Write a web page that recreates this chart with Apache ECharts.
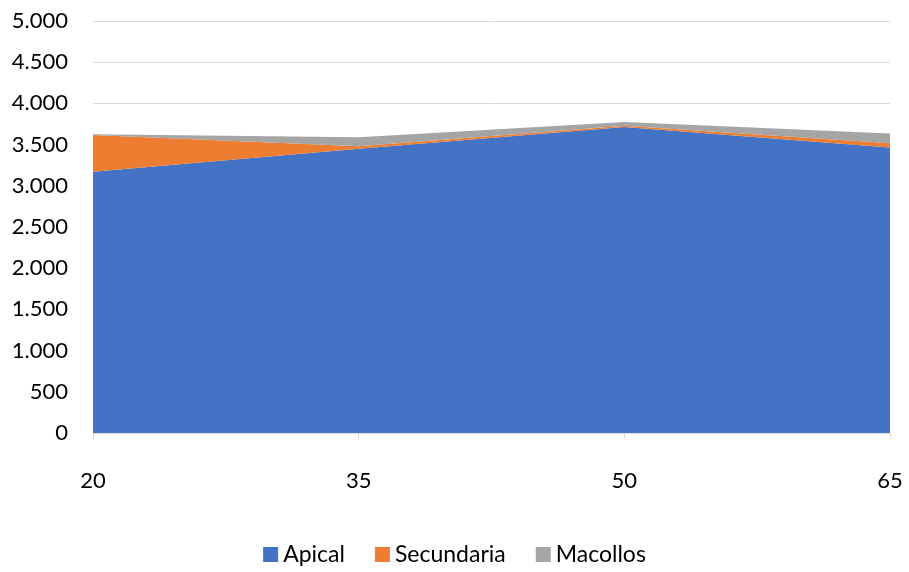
<!DOCTYPE html>
<html>
<head>
<meta charset="utf-8">
<script src="https://cdn.jsdelivr.net/npm/echarts@6/dist/echarts.min.js"></script>
<style>html,body{margin:0;padding:0;background:#fff;}#c{width:909px;height:572px;}</style>
</head>
<body>
<div id="c"></div>
<script>
const categories = ['20', '35', '50', '65'];
const apical = [3170, 3450, 3715, 3465];
const secundaria = [445, 30, 15, 50];
const macollos = [10, 110, 45, 120];
const seriesNames = ['Apical', 'Secundaria', 'Macollos'];
const colors = ['#4472C4', '#ED7D31', '#A5A5A5'];

const font = 'Lato, "Open Sans", sans-serif';
const fmt = v => String(v).replace(/\B(?=(\d{3})+(?!\d))/g, '.');

const chart = echarts.init(document.getElementById('c'), null, {renderer: 'canvas'});
const data = [apical, secundaria, macollos];
chart.setOption({
  animation: false,
  color: colors,
  grid: {left: 93, right: 19, top: 21, bottom: 139},
  legend: {
    bottom: 1, left: 'center',
    itemWidth: 15, itemHeight: 15, itemGap: 30,
    icon: 'rect',
    textStyle: {fontFamily: font, fontSize: 23, color: '#000'},
    data: seriesNames
  },
  xAxis: {
    type: 'category', data: categories, boundaryGap: false,
    axisLine: {lineStyle: {color: '#d9d9d9', width: 1}},
    axisTick: {show: true, length: 6, lineStyle: {color: '#d9d9d9'}},
    axisLabel: {fontFamily: font, fontSize: 22, color: '#000', margin: 37}
  },
  yAxis: {
    type: 'value', min: 0, max: 5000, interval: 500,
    axisLine: {show: false}, axisTick: {show: false},
    splitLine: {lineStyle: {color: '#d9d9d9', width: 1}},
    axisLabel: {fontFamily: font, fontSize: 22, color: '#000', margin: 25, formatter: fmt}
  },
  series: data.map((d, i) => ({
    name: seriesNames[i], type: 'line', stack: 'total', data: d,
    symbol: 'none', lineStyle: {width: 0}, areaStyle: {color: colors[i], opacity: 1}
  }))
});
</script>
</body>
</html>
